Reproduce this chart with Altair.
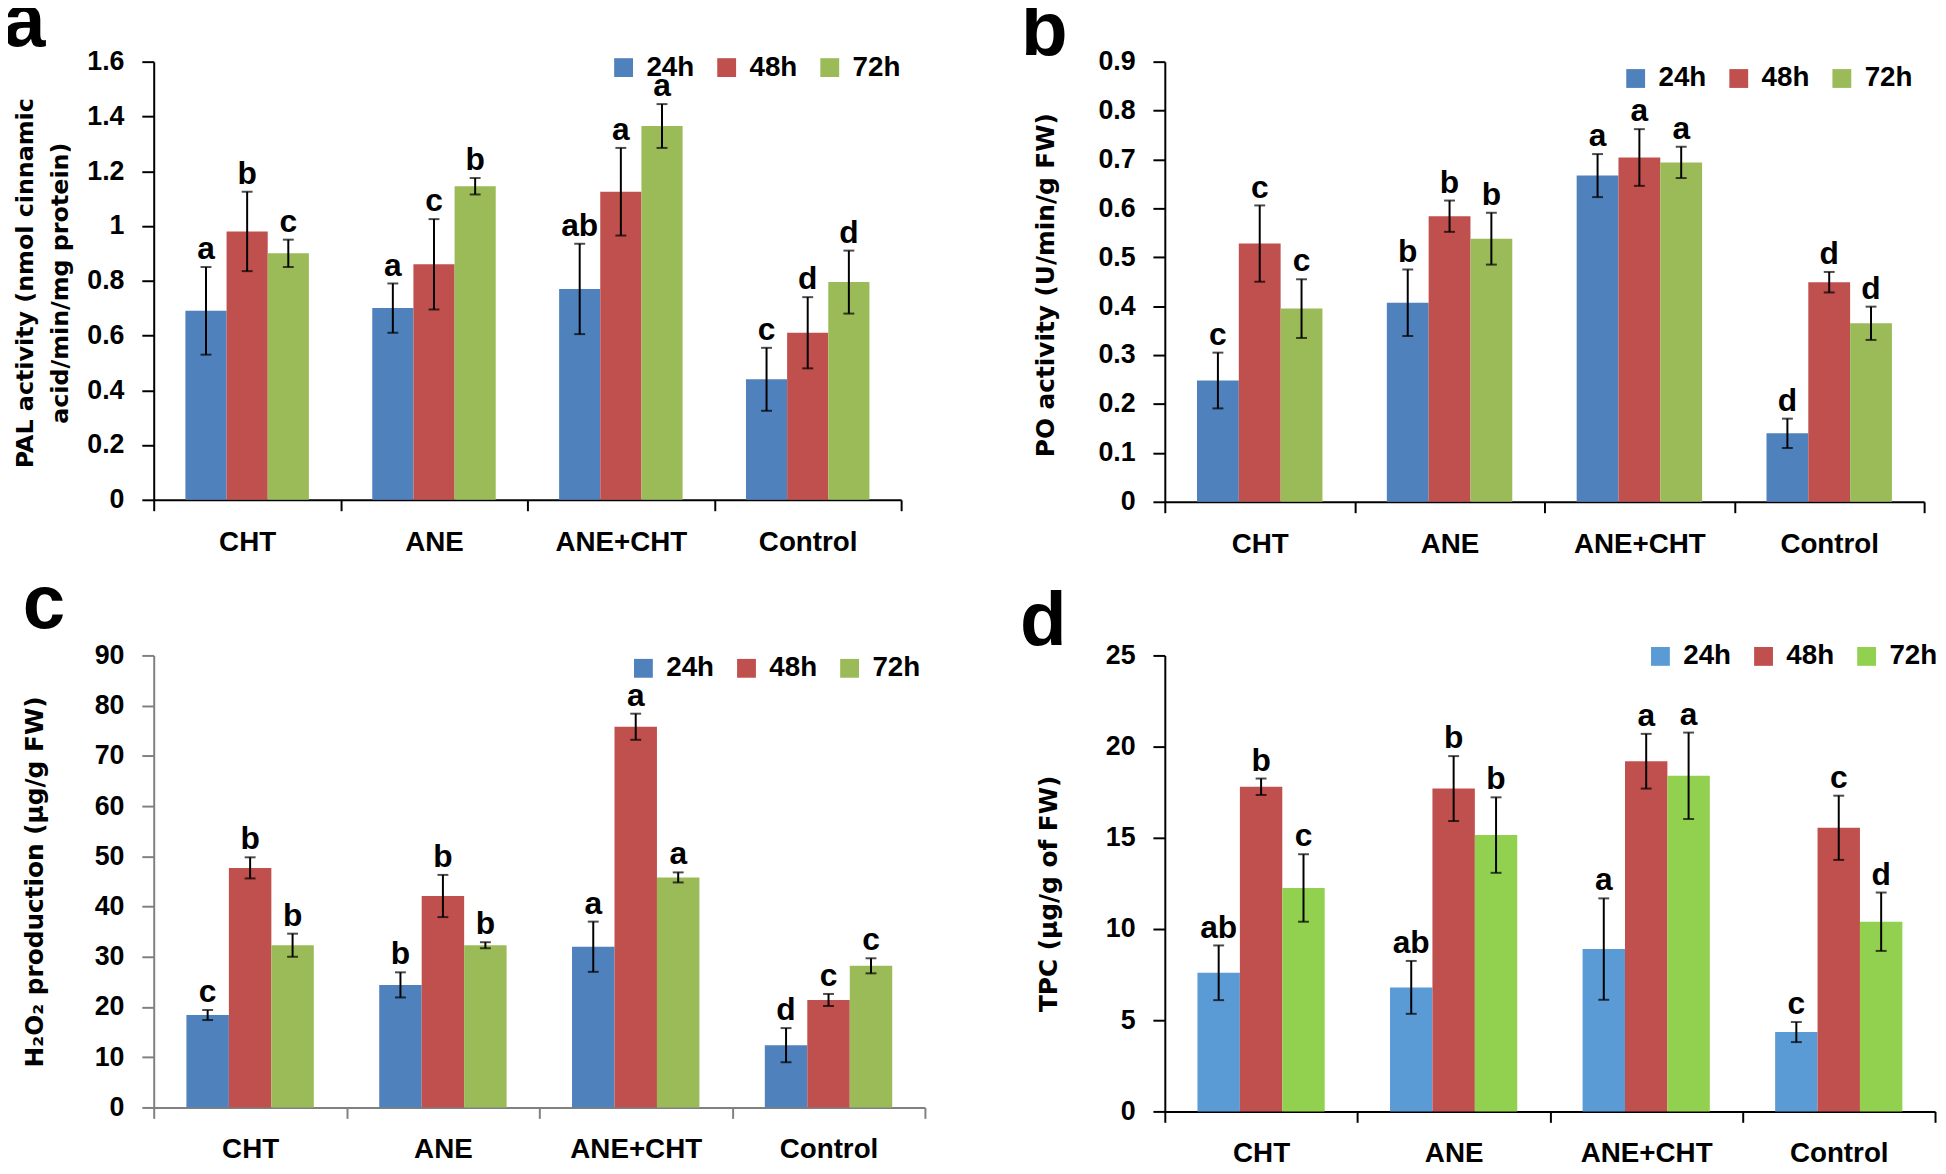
import altair as alt
import pandas as pd

categories = ["CHT", "ANE", "ANE+CHT", "Control"]
times = ["24h", "48h", "72h"]

# (a) PAL activity
pal_24 = [0.69, 0.70, 0.77, 0.44]
pal_48 = [0.98, 0.86, 1.125, 0.61]
pal_72 = [0.90, 1.145, 1.365, 0.795]
pal_err_24 = [0.16, 0.09, 0.165, 0.115]
pal_err_48 = [0.145, 0.165, 0.16, 0.13]
pal_err_72 = [0.05, 0.03, 0.08, 0.115]
pal_let_24 = ["a", "a", "ab", "c"]
pal_let_48 = ["b", "c", "a", "d"]
pal_let_72 = ["c", "b", "a", "d"]
pal_ticks = [0, 0.2, 0.4, 0.6, 0.8, 1.0, 1.2, 1.4, 1.6]

# (b) PO activity
po_24 = [0.248, 0.407, 0.667, 0.140]
po_48 = [0.528, 0.584, 0.704, 0.449]
po_72 = [0.395, 0.538, 0.694, 0.365]
po_err_24 = [0.057, 0.068, 0.044, 0.030]
po_err_48 = [0.078, 0.032, 0.058, 0.021]
po_err_72 = [0.060, 0.053, 0.032, 0.034]
po_let_24 = ["c", "b", "a", "d"]
po_let_48 = ["c", "b", "a", "d"]
po_let_72 = ["c", "b", "a", "d"]
po_ticks = [0, 0.1, 0.2, 0.3, 0.4, 0.5, 0.6, 0.7, 0.8, 0.9]

# (c) H2O2 production
h2o2_24 = [18.4, 24.4, 32.0, 12.4]
h2o2_48 = [47.7, 42.1, 75.8, 21.4]
h2o2_72 = [32.3, 32.3, 45.8, 28.2]
h2o2_err_24 = [1.0, 2.5, 5.0, 3.4]
h2o2_err_48 = [2.1, 4.2, 2.6, 1.2]
h2o2_err_72 = [2.3, 0.6, 1.0, 1.5]
h2o2_let_24 = ["c", "b", "a", "d"]
h2o2_let_48 = ["b", "b", "a", "c"]
h2o2_let_72 = ["b", "b", "a", "c"]
h2o2_ticks = [0, 10, 20, 30, 40, 50, 60, 70, 80, 90]

# (d) TPC
tpc_24 = [7.6, 6.8, 8.9, 4.35]
tpc_48 = [17.8, 17.7, 19.2, 15.55]
tpc_72 = [12.25, 15.15, 18.4, 10.4]
tpc_err_24 = [1.5, 1.45, 2.78, 0.55]
tpc_err_48 = [0.45, 1.78, 1.5, 1.76]
tpc_err_72 = [1.85, 2.07, 2.37, 1.6]
tpc_let_24 = ["ab", "ab", "a", "c"]
tpc_let_48 = ["b", "b", "a", "c"]
tpc_let_72 = ["c", "b", "a", "d"]
tpc_ticks = [0, 5, 10, 15, 20, 25]

colors_abc = ["#4F81BD", "#C0504D", "#9BBB59"]
colors_d = ["#5B9BD5", "#C0504D", "#92D050"]

LF = "Liberation Sans"
TF = "DejaVu Sans"


def make_df(means, errs, lets):
    rows = []
    for t, m, e, l in zip(times, means, errs, lets):
        for c, mv, ev, lv in zip(categories, m, e, l):
            rows.append(dict(treatment=c, time=t, mean=mv, lo=mv - ev, hi=mv + ev, letter=lv))
    return pd.DataFrame(rows)


def panel(df, colors, ymax, yticks, yfmt, ytitle, title_x, title_y, title_size,
          w, h, axis_color, leg_x, leg_y, tag, tag_x, tag_y):
    xenc = alt.X(
        "treatment:N", sort=categories, title=None,
        scale=alt.Scale(paddingInner=0, paddingOuter=0),
        axis=alt.Axis(tickBand="extent", tickSize=11, tickWidth=2, tickColor=axis_color,
                      domainColor=axis_color, domainWidth=2, labelFont=LF, labelFontSize=28,
                      labelFontWeight="bold", labelColor="black", labelPadding=18,
                      labelAngle=0, grid=False),
    )
    xoff = alt.XOffset("time:N", sort=times,
                       scale=alt.Scale(paddingInner=0, paddingOuter=0.77))
    yscale = alt.Scale(domain=[0, ymax], nice=False, zero=True)
    yaxis = alt.Axis(values=yticks, format=yfmt, tickSize=12, tickWidth=2,
                     tickColor=axis_color, domainColor=axis_color, domainWidth=2,
                     labelFont=LF, labelFontSize=27, labelFontWeight="bold",
                     labelColor="black", labelPadding=18, grid=False,
                     title=ytitle, titleX=title_x, titleY=title_y, titleAngle=270,
                     titleAlign="center", titleBaseline="middle", titleFont=TF,
                     titleFontSize=title_size, titleFontWeight="bold",
                     titleColor="black", titleLineHeight=35)
    base = alt.Chart(df)
    bars = base.mark_bar().encode(
        x=xenc, xOffset=xoff,
        y=alt.Y("mean:Q", scale=yscale, axis=yaxis),
        color=alt.Color("time:N", sort=times,
                        scale=alt.Scale(domain=times, range=colors),
                        legend=alt.Legend(orient="none", legendX=leg_x, legendY=leg_y,
                                          direction="horizontal", title=None,
                                          symbolType="square", symbolSize=361,
                                          symbolStrokeWidth=0, labelFont=LF,
                                          labelFontSize=28, labelFontWeight="bold",
                                          labelColor="black", labelOffset=9,
                                          columnPadding=18, padding=0)),
    )
    rules = base.mark_rule(color="black", strokeWidth=2).encode(
        x=xenc, xOffset=xoff, y=alt.Y("lo:Q", scale=yscale, axis=yaxis), y2="hi:Q")
    cap_hi = base.mark_tick(color="black", size=11, thickness=2).encode(
        x=xenc, xOffset=xoff, y=alt.Y("hi:Q", scale=yscale, axis=yaxis))
    cap_lo = base.mark_tick(color="black", size=11, thickness=2).encode(
        x=xenc, xOffset=xoff, y=alt.Y("lo:Q", scale=yscale, axis=yaxis))
    lets = base.mark_text(font=LF, fontSize=32, fontWeight="bold", baseline="alphabetic",
                          dy=-8, color="black").encode(
        x=xenc, xOffset=xoff, y=alt.Y("hi:Q", scale=yscale, axis=yaxis), text="letter:N")
    tagc = alt.Chart(pd.DataFrame({"tag": [tag]})).mark_text(
        font=LF, fontSize=77, fontWeight="bold", align="left", baseline="alphabetic",
        color="black").encode(x=alt.value(tag_x), y=alt.value(tag_y), text="tag:N")
    return alt.layer(bars, rules, cap_hi, cap_lo, lets, tagc).properties(width=w, height=h)


pa = panel(make_df([pal_24, pal_48, pal_72], [pal_err_24, pal_err_48, pal_err_72],
                   [pal_let_24, pal_let_48, pal_let_72]),
           colors_abc, 1.6, pal_ticks, ".1~f",
           ["PAL activity (nmol cinnamic", "acid/min/mg protein)"], -129, 223, 24,
           754, 442, "black", 460, -8, "a", -152, -16)
pb = panel(make_df([po_24, po_48, po_72], [po_err_24, po_err_48, po_err_72],
                   [po_let_24, po_let_48, po_let_72]),
           colors_abc, 0.9, po_ticks, ".1~f",
           "PO activity (U/min/g FW)", -120, 225, 25,
           766, 444, "black", 461, 3, "b", -145, -7)
pc = panel(make_df([h2o2_24, h2o2_48, h2o2_72], [h2o2_err_24, h2o2_err_48, h2o2_err_72],
                   [h2o2_let_24, h2o2_let_48, h2o2_let_72]),
           colors_abc, 90, h2o2_ticks, "d",
           "H\u2082O\u2082 production (\u00b5g/g FW)", -120, 228, 25,
           778, 456, "#808080", 480, -1, "c", -132, -28)
pd_ = panel(make_df([tpc_24, tpc_48, tpc_72], [tpc_err_24, tpc_err_48, tpc_err_72],
                    [tpc_let_24, tpc_let_48, tpc_let_72]),
            colors_d, 25, tpc_ticks, "d",
            "TPC (\u00b5g/g of FW)", -117, 240, 25,
            777, 460, "black", 486, -13, "d", -146, -11)

chart = alt.concat(pa, pb, pc, pd_, columns=2, spacing={"row": 155, "column": 242},
                   bounds="flush", align="each").resolve_scale(
    color="independent", x="independent", y="independent", xOffset="independent"
).configure_view(stroke=None).properties(
    padding={"left": -5, "top": -29, "right": 0, "bottom": 0})

chart.save("out.html", embed_options={"renderer": "svg", "actions": False})
